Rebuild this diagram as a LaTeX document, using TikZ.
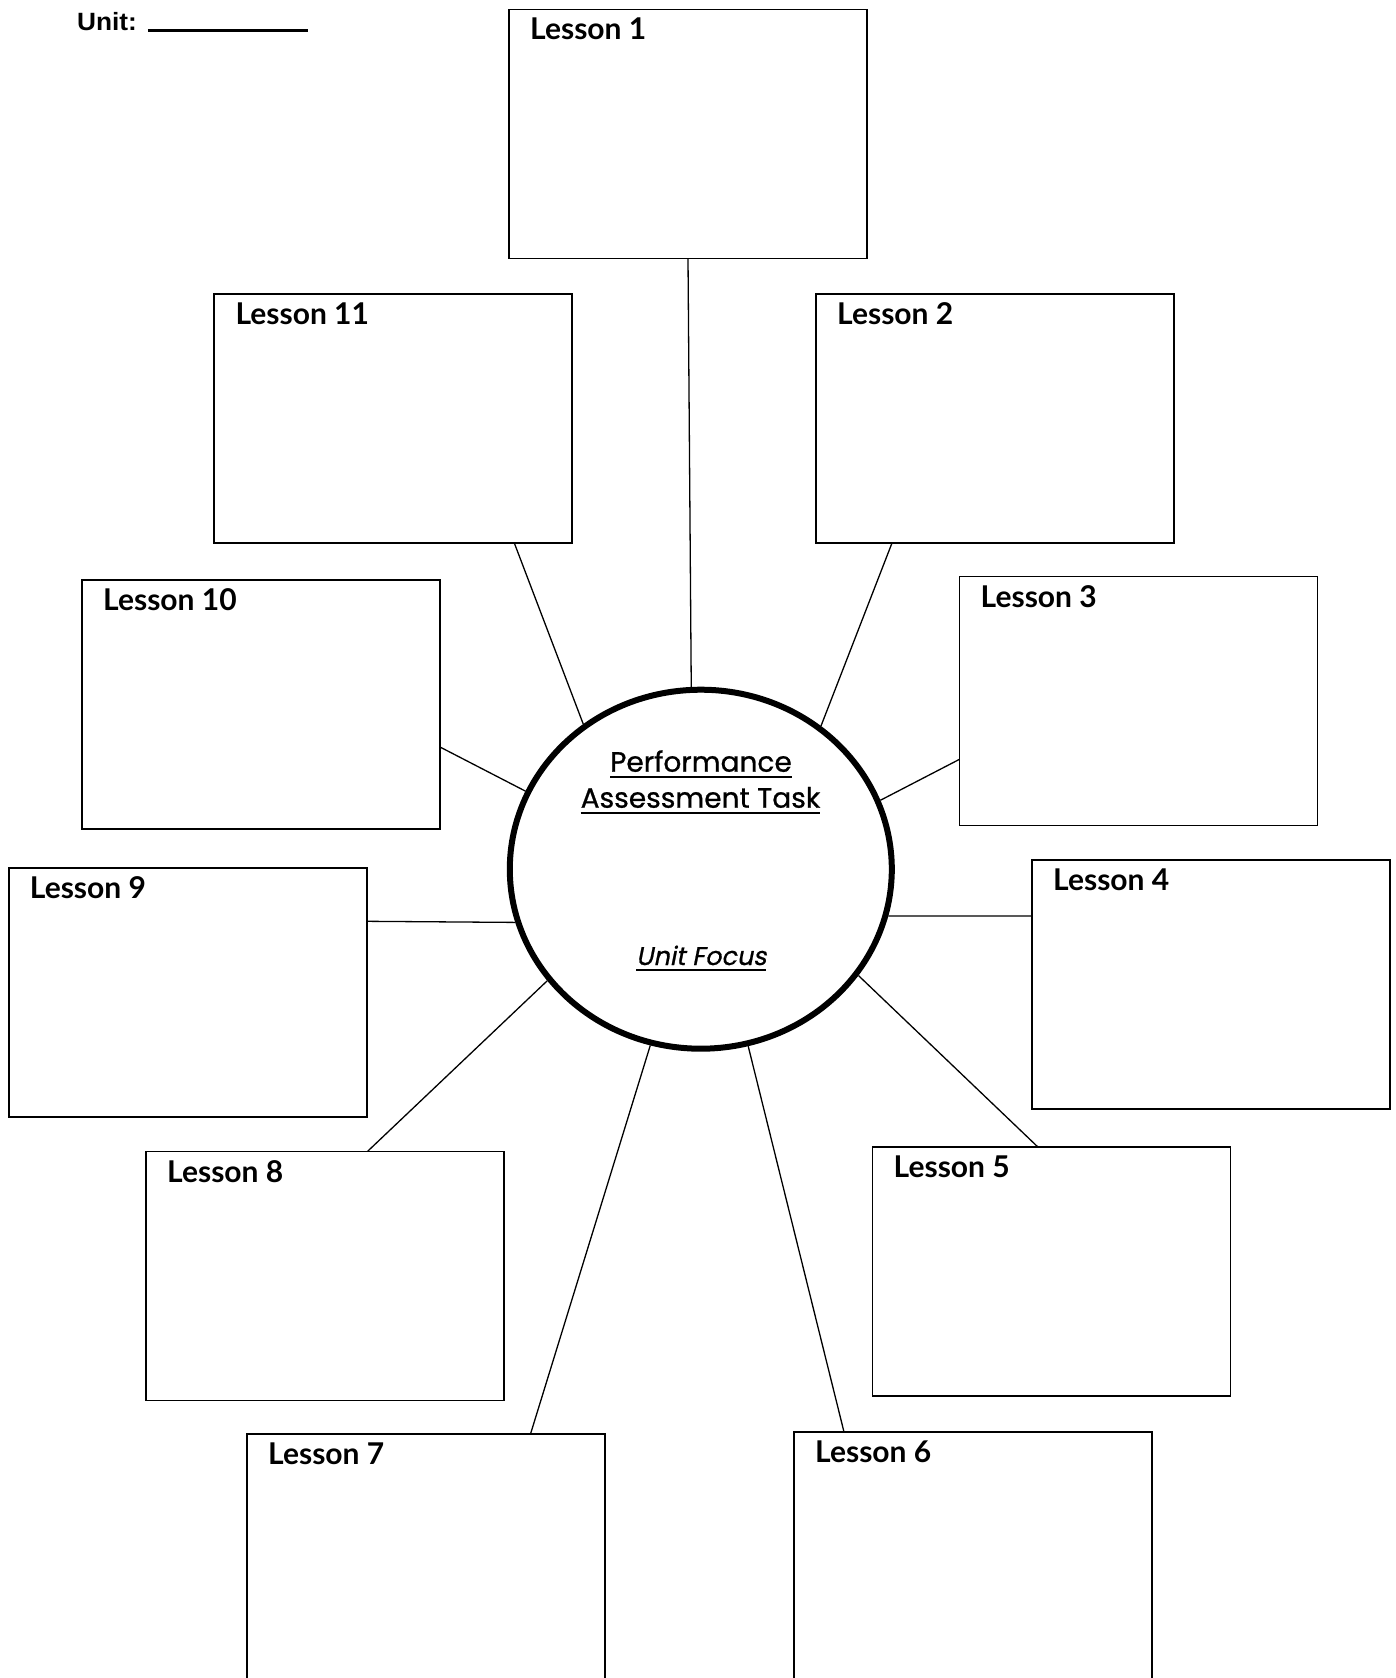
\documentclass[tikz,border=0pt]{standalone}
\usepackage{fontspec}
\usetikzlibrary{shapes.geometric,calc}
\setmainfont{Liberation Sans}
\newfontfamily\lessonfont{Lato}
\newfontfamily\gothicfont{Poppins}[AutoFakeSlant=0.2,FakeBold=0.8]

% text with a rule a few points below its baseline
\newsavebox\ulsave
\newcommand\ulined[1]{\sbox\ulsave{#1}\usebox\ulsave\llap{\rule[-6.2pt]{\wd\ulsave}{2.4pt}}}

\begin{document}
\begin{tikzpicture}[x=1pt,y=-1pt,
  lessonbox/.style={draw, line width=1.8pt, rectangle, minimum width=358pt,
    minimum height=249pt, inner sep=0pt, outer sep=0pt, anchor=north west},
  lessonlabel/.style={anchor=base west, inner sep=0pt,
    font=\lessonfont\bfseries\fontsize{30}{36}\selectfont},
  spoke/.style={line width=1.3pt},
  focus/.style={ellipse, draw, line width=6pt, minimum width=382pt,
    minimum height=359pt, inner sep=0pt},
  centertext/.style={anchor=base, inner sep=0pt,
    font=\gothicfont\fontsize{28}{34}\selectfont}]

\fill[white] (0,0) rectangle (1395,1678);
\useasboundingbox (0,0) rectangle (1395,1678);

% header
\node[anchor=base west, inner sep=0pt, font=\bfseries\fontsize{25}{30}\selectfont]
  (unit) at (77,31) {\scalebox{1.05}[1]{Unit:}\hspace{11pt}\rule[-0.8pt]{160pt}{2.8pt}};

% central task
\node[focus] (pat) at (700.8,869.2) {};
\node[centertext] (pat1) at (701,771.7) {\ulined{Performance}};
\node[centertext] (pat2) at (700.5,807.7) {\ulined{Assessment Task}};
\node[centertext, font=\gothicfont\fontsize{25.5}{30}\selectfont] (ufoc) at (701.3,965) {\itshape\ulined{Unit Focus}};

% lesson boxes
\node[lessonbox] (b1)  at (509,9.5) {};
\node[lessonbox] (b2)  at (816,294) {};
\node[lessonbox] (b3)  at (959.5,576.5) {};
\node[lessonbox] (b4)  at (1032,860) {};
\node[lessonbox] (b5)  at (872.5,1147) {};
\node[lessonbox] (b6)  at (794,1432) {};
\node[lessonbox] (b7)  at (247,1434) {};
\node[lessonbox] (b8)  at (146,1151.5) {};
\node[lessonbox] (b9)  at (8.7,867.6) {};
\node[lessonbox] (b10) at (82,580.3) {};
\node[lessonbox] (b11) at (214.3,294) {};

% lesson titles
\foreach \i in {1,...,11}{
  \node[lessonlabel] (t\i) at ($(b\i.north west)+(21,30.5)$) {Lesson \i};
}

% where the spokes meet the boxes
\coordinate (c1)  at (b1.south);
\coordinate (c2)  at ($(b2.south west)+(76,0)$);
\coordinate (c3)  at ($(b3.north west)+(0,182.8)$);
\coordinate (c4)  at ($(b4.north west)+(0,56)$);
\coordinate (c5)  at ($(b5.north west)+(165.4,0)$);
\coordinate (c6)  at ($(b6.north west)+(50,0)$);
\coordinate (c7)  at ($(b7.north west)+(283.5,0)$);
\coordinate (c8)  at ($(b8.north west)+(221.4,0)$);
\coordinate (c9)  at ($(b9.north east)+(0,53.7)$);
\coordinate (c10) at ($(b10.north east)+(0,166.7)$);
\coordinate (c11) at ($(b11.south west)+(300,0)$);

% spokes
\draw[spoke] (c1)  -- (pat.93.6);
\draw[spoke] (c2)  -- (pat.50.9);
\draw[spoke] (c3)  -- (pat.21.3);
\draw[spoke] (c4)  -- (pat.-14.0);
\draw[spoke] (c5)  -- (pat.-34.2);
\draw[spoke] (c6)  -- (pat.-75.3);
\draw[spoke] (c7)  -- (pat.254.9);
\draw[spoke] (c8)  -- (pat.216.5);
\draw[spoke] (c9)  -- (pat.196.3);
\draw[spoke] (c10) -- (pat.156.6);
\draw[spoke] (c11) -- (pat.129.4);
\end{tikzpicture}
\end{document}
